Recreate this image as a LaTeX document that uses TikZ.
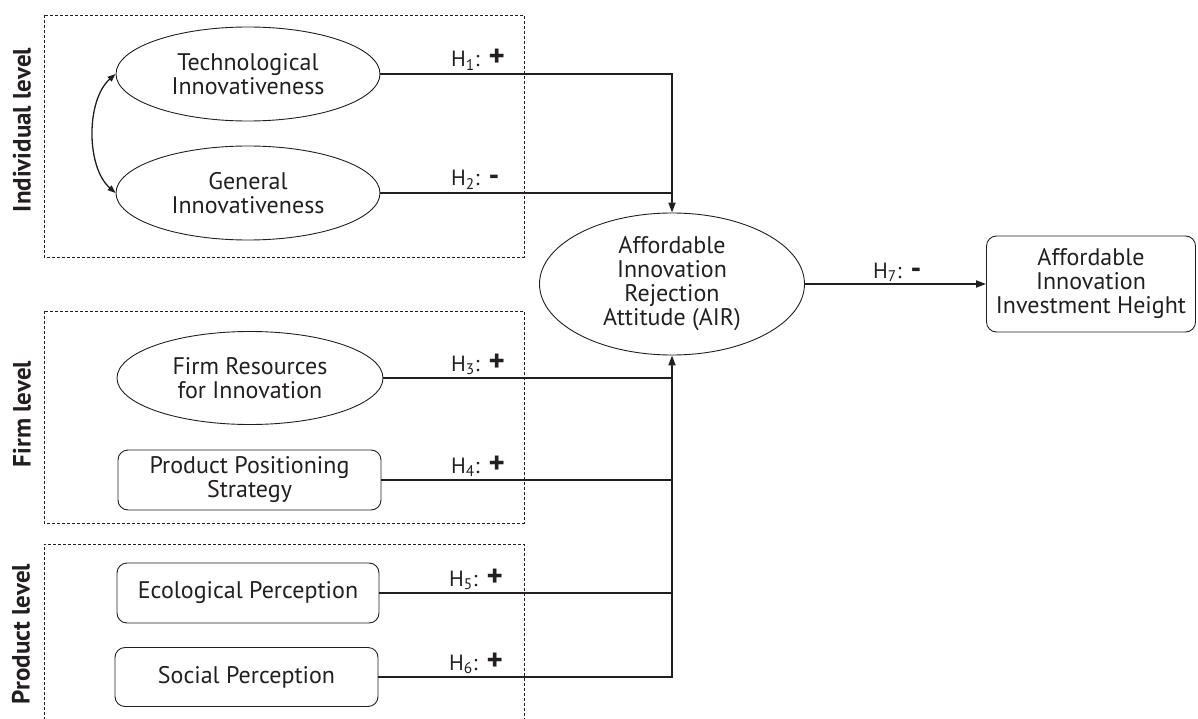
\documentclass[tikz,border=0pt]{standalone}
\usepackage{fontspec}
\setmainfont{PT Sans}
\usetikzlibrary{shapes.geometric,arrows.meta}
\definecolor{ink}{RGB}{35,31,32}
\begin{document}
\begin{tikzpicture}[x=1pt,y=-1pt,
  txt/.style={font=\fontsize{24}{24}\selectfont, align=center, text=ink},
  ell/.style={txt, ellipse, draw=ink, line width=0.9pt, inner sep=0pt},
  rbox/.style={txt, rectangle, rounded corners=10pt, draw=ink, line width=0.9pt, inner sep=0pt},
  grp/.style={draw=ink, line width=0.8pt, dash pattern=on 3pt off 2pt},
  conn/.style={draw=ink, line width=1.8pt},
  tip/.style={-{Triangle[length=10pt,width=7pt]}},
  hyp/.style={font=\fontsize{22}{24}\selectfont, text=ink, inner sep=0pt, anchor=base west},
  lvl/.style={font=\bfseries\fontsize{25}{26}\selectfont, rotate=90, text=ink, inner sep=0pt}
]
\newcommand{\pl}{\hspace{9pt}{\fontsize{31}{24}\selectfont\bfseries +}}
\newcommand{\mi}{\hspace{9pt}{\fontsize{30}{24}\selectfont\bfseries -}}
\useasboundingbox (0,0) rectangle (1198,719);

% group boxes
\draw[grp] (44,15) rectangle (524,257);
\draw[grp] (44,311) rectangle (524,523);
\draw[grp] (44,730) -- (44,544) -- (524,544) -- (524,730);

% level labels
\node[lvl] (lind) at (22,130) {Individual level};
\node[lvl] (lfirm) at (22,414) {Firm level};
\node[lvl] (lprod) at (21,634) {Product level};

% constructs
\node[ell, minimum width=264pt, minimum height=94pt] (tech) at (248,74) {Technological\\Innovativeness};
\node[ell, minimum width=264pt, minimum height=94pt] (gen) at (248,193) {General\\Innovativeness};
\node[ell, minimum width=266pt, minimum height=93pt] (firm) at (250,378) {Firm Resources\\for Innovation};
\node[rbox, minimum width=263pt, minimum height=60pt] (pps) at (249.5,480) {Product Positioning\\Strategy};
\node[rbox, minimum width=262pt, minimum height=60pt] (eco) at (248,593) {Ecological Perception};
\node[rbox, minimum width=263pt, minimum height=59pt] (soc) at (246.5,677) {Social Perception};
\node[ell, minimum width=265pt, minimum height=142pt] (air) at (672,284) {Affordable\\Innovation\\Rejection\\Attitude (AIR)};
\node[rbox, minimum width=209pt, minimum height=96pt] (out) at (1091,284) {Affordable\\Innovation\\Investment Height};

% correlation
\draw[draw=ink, line width=1.3pt, {Triangle[length=8pt,width=6pt]}-{Triangle[length=8pt,width=6pt]}]
  (tech.west) .. controls (86,100) and (86,167) .. (gen.west);

% paths
\draw[conn,tip] (tech.east) -| (air.north);
\draw[conn] (gen.east) -- (gen.east -| air.north);
\draw[conn,tip] (soc.east) -| (air.south);
\draw[conn] (firm.east) -- (firm.east -| air.south);
\draw[conn] (pps.east) -- (pps.east -| air.south);
\draw[conn] (eco.east) -- (eco.east -| air.south);
\draw[conn,tip] (air.east) -- (out.west);

% hypothesis labels
\node[hyp] (h1) at (451,67) {H\textsubscript{1}:\pl};
\node[hyp] (h2) at (451,186) {H\textsubscript{2}:\mi};
\node[hyp] (h3) at (451,371) {H\textsubscript{3}:\pl};
\node[hyp] (h4) at (451,473) {H\textsubscript{4}:\pl};
\node[hyp] (h5) at (449,586) {H\textsubscript{5}:\pl};
\node[hyp] (h6) at (449,670) {H\textsubscript{6}:\pl};
\node[hyp] (h7) at (873,278) {H\textsubscript{7}:\mi};
\end{tikzpicture}
\end{document}
